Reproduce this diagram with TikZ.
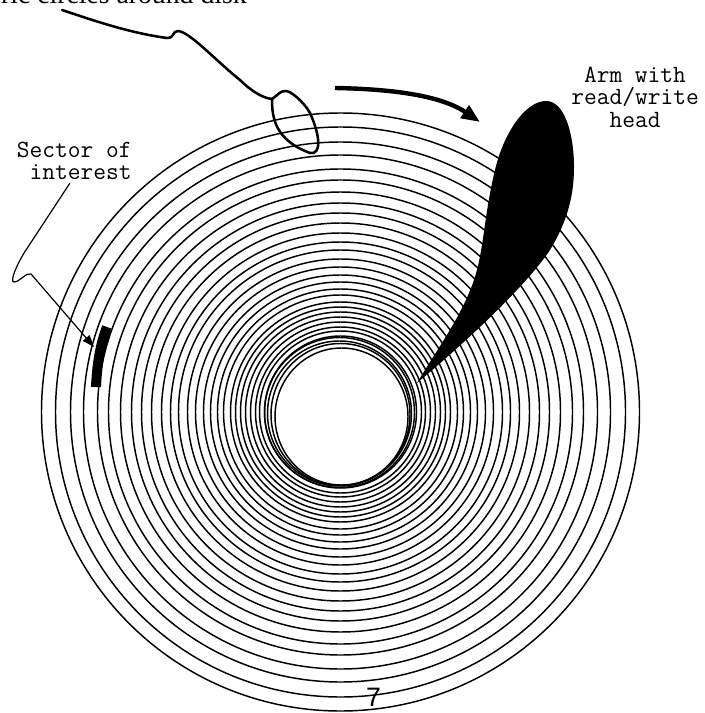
\documentclass[tikz,border=0pt]{standalone}
\usepackage{fontspec}
\setmainfont{Liberation Serif}
\setsansfont{Liberation Sans}
\usetikzlibrary{arrows.meta,positioning}

\tikzset{
  track/.style={line width=1.1pt},
  wire/.style={line width=1.9pt,line cap=round},
  callout/.style={font=\fontsize{18.57}{16.9}\selectfont\ttfamily,inner sep=0pt},
}

\begin{document}
\begin{tikzpicture}[x=0.75pt,y=-0.75pt]
\useasboundingbox (0,0) rectangle (704,713);
\clip (0,0) rectangle (704,713);
% tracks
\foreach \r in {299,285,270,257,243,232,220,209,199,189,179,170,162,153,145,137,130,123,117,110,105,100,95,90,85,81,76}
  \draw[track] (340.5,412) ellipse[x radius=\r,y radius=\r];
\draw[track] (339.5,412.5) ellipse[x radius=75,y radius=75];
\draw[track] (339.5,413.5) ellipse[x radius=72,y radius=72.5];
\draw[track] (340.5,414.5) ellipse[x radius=69.5,y radius=71];
\draw[track] (341.5,416.5) ellipse[x radius=66.5,y radius=68.5];
% arm
\fill (417,383) .. controls (440,345) and (462,315) .. (474,280)
  .. controls (484,250) and (484,215) .. (495,170)
  .. controls (503,135) and (525,100) .. (547,101)
  .. controls (565,102) and (574,135) .. (574,167)
  .. controls (574,200) and (565,225) .. (550,250)
  .. controls (530,280) and (480,330) .. (417,383) -- cycle;
% sector
\draw[line width=7.5pt] (96,387) .. controls (97,365) and (100,345) .. (107,327);
% labels
\node[font=\fontsize{20.8}{22}\selectfont,anchor=base east,inner sep=0pt] (circleslabel) at (247,4) {ric circles around disk};
\node[callout,align=right,anchor=east] (sectorlabel) at (132,161) {Sector of\\interest};
\node[callout,align=center] (armlabel) at (635,97) {Arm with\\read/write\\head};
\node[font=\fontsize{20}{22}\selectfont\sffamily,inner sep=0pt] (pagenum) at (373.5,697) {7};
% wire and loop
\coordinate (wirestart) at (62,10);
\coordinate (loopjoin) at (272,99);
\draw[wire] (wirestart) .. controls (95,21) and (130,33) .. (167,38)
  .. controls (175,38) and (172,31) .. (178,31)
  .. controls (190,32) and (215,60) .. (240,80)
  .. controls (250,90) and (262,98) .. (loopjoin);
\draw[wire] (loopjoin) .. controls (272,118) and (275,140) .. (310,153)
  .. controls (322,155) and (320,135) .. (310,113)
  .. controls (304,102) and (290,90) .. (285,91)
  .. controls (280,91) and (278,95) .. (loopjoin);
% rotation arrow
\coordinate (spinstart) at (335,88);
\coordinate (spinend) at (480,122);
\draw[line width=3.3pt,-{Triangle[length=14pt,width=11pt]}] (spinstart) .. controls (390,89) and (440,95) .. (spinend);
% leader to sector
\coordinate (leadstart) at (70,183);
\coordinate (leadend) at (94,347);
\draw[line width=0.9pt,-{Triangle[length=9pt,width=6.5pt]}] (leadstart) -- (26,250)
  .. controls (18,262) and (9,282) .. (14,282)
  .. controls (20,282) and (26,272) .. (31,274)
  -- (leadend);
\end{tikzpicture}
\end{document}
